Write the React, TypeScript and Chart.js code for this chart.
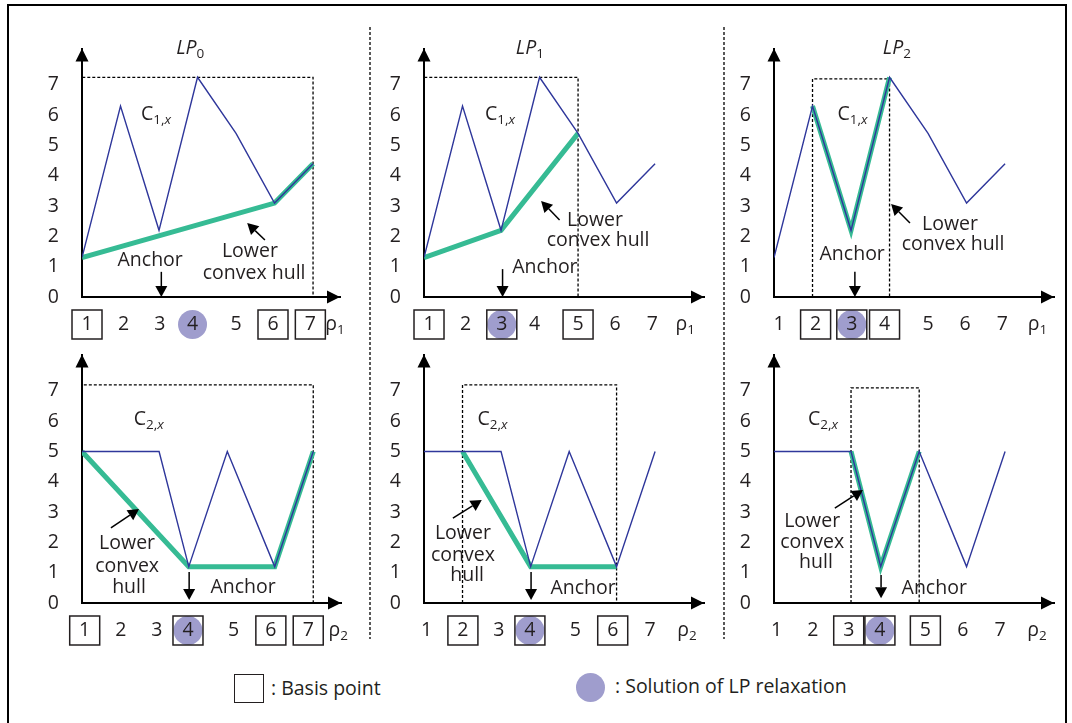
import React, { useEffect, useRef } from 'react';
import { Chart, registerables } from 'chart.js';

Chart.register(...registerables);

// ---------- data ----------
const X_VALUES = [1, 2, 3, 4, 5, 6, 7];
const C1_VALUES = [1.3, 6.3, 2.2, 7.25, 5.4, 3.1, 4.4];
const C2_X = [1, 2, 3, 3.77, 4.77, 6, 7];
const C2_VALUES = [5, 5, 5, 1.2, 5, 1.2, 5];

const Y_TICKS = [0, 1, 2, 3, 4, 5, 6, 7];
const TICK_LABELS = ['1', '2', '3', '4', '5', '6', '7'];
const TOP_TICK_POS = [1.13, 2.08, 3.02, 3.87, 5.0, 5.96, 6.93];
const BOTTOM_TICK_POS = [1.07, 2.01, 2.94, 3.75, 4.93, 5.9, 6.87];

const HULL_LP0_C1_X = [1, 6, 7];
const HULL_LP0_C1_Y = [1.3, 3.1, 4.4];
const HULL_LP1_C1_X = [1, 3, 5];
const HULL_LP1_C1_Y = [1.3, 2.2, 5.4];
const HULL_LP2_C1_X = [2, 3, 4];
const HULL_LP2_C1_Y = [6.3, 2.2, 7.25];
const HULL_LP0_C2_X = [1, 3.77, 6, 7];
const HULL_LP0_C2_Y = [5, 1.2, 1.2, 5];
const HULL_LP1_C2_X = [2, 3.77, 6];
const HULL_LP1_C2_Y = [5, 1.2, 1.2];
const HULL_LP2_C2_X = [3, 3.77, 4.77];
const HULL_LP2_C2_Y = [5, 1.2, 5];

// [low x, high x, top y] of the dashed bound boxes
const BOUNDS_LP0_C1 = [1, 7, 7.25];
const BOUNDS_LP1_C1 = [1, 5, 7.25];
const BOUNDS_LP2_C1 = [2, 4, 7.2];
const BOUNDS_LP0_C2 = [1, 7, 7.2];
const BOUNDS_LP1_C2 = [2, 6, 7.2];
const BOUNDS_LP2_C2 = [3, 4.77, 7.1];

const BASIS_LP0_C1 = [1, 6, 7];
const BASIS_LP1_C1 = [1, 3, 5];
const BASIS_LP2_C1 = [2, 3, 4];
const BASIS_LP0_C2 = [1, 4, 6, 7];
const BASIS_LP1_C2 = [2, 4, 6];
const BASIS_LP2_C2 = [3, 4, 5];
const SOLUTION_C1 = [4, 3, 3];
const SOLUTION_C2 = [4, 4, 4];

// ---------- styles ----------
const FONT = '"Open Sans"';
const FS = 19.5;
const SUB = 13.5;
const INK = '#231f20';
const BLUE = '#2f379b';
const GREEN = '#36bb94';
const PURPLE = '#9f9dcd';
const PX_PER_X = 38.5;
const Y_AXIS_W = 70;
const X_AXIS_H = 50;
const PAD_TOP = 51.5;
const PAD_RIGHT = 15;
const CANVAS_H = 350;

const pts = (xs: number[], ys: number[]) => xs.map((x, i) => ({ x, y: ys[i] }));
const boxPts = (b: number[]) => [
  { x: b[0], y: 0 },
  { x: b[0], y: b[2] },
  { x: b[1], y: b[2] },
  { x: b[1], y: 0 },
];

type Seg = { t: string; size: number; italic?: boolean; sub?: boolean };

function drawRich(ctx: CanvasRenderingContext2D, segs: Seg[], cx: number, cy: number) {
  let w = 0;
  const widths = segs.map((s) => {
    ctx.font = `${s.italic ? 'italic ' : ''}${s.size}px ${FONT}`;
    const m = ctx.measureText(s.t).width;
    w += m;
    return m;
  });
  let x = cx - w / 2;
  const base = cy + 0.36 * FS;
  ctx.textAlign = 'left';
  ctx.textBaseline = 'alphabetic';
  segs.forEach((s, i) => {
    ctx.font = `${s.italic ? 'italic ' : ''}${s.size}px ${FONT}`;
    ctx.fillText(s.t, x, base + (s.sub ? 4 : 0));
    x += widths[i];
  });
}

function drawArrow(ctx: CanvasRenderingContext2D, x0: number, y0: number, x1: number, y1: number, head = 10, half = 5) {
  const a = Math.atan2(y1 - y0, x1 - x0);
  const bx = x1 - head * Math.cos(a);
  const by = y1 - head * Math.sin(a);
  ctx.beginPath();
  ctx.moveTo(x0, y0);
  ctx.lineTo(bx, by);
  ctx.stroke();
  ctx.beginPath();
  ctx.moveTo(x1, y1);
  ctx.lineTo(bx + half * Math.sin(a), by - half * Math.cos(a));
  ctx.lineTo(bx - half * Math.sin(a), by + half * Math.cos(a));
  ctx.closePath();
  ctx.fill();
}

type PanelCfg = {
  left: number;
  top: number;
  xMax: number;
  curveX: number[];
  curveY: number[];
  hullX: number[];
  hullY: number[];
  bounds: number[];
  tickPos: number[];
  basis: number[];
  solution: number;
  title?: Seg[];
  titleAt?: number[];
  cLabel: Seg[];
  cAt: number[];
  rho: Seg[];
  rhoAt: number;
  anchor: number[]; // x, yFrom, yTo
  anchorText: number[];
  hullArrow: number[]; // x0,y0,x1,y1
  hullText: { t: string; x: number; y: number }[];
};

const lp = (n: string): Seg[] => [
  { t: 'LP', size: FS, italic: true },
  { t: n, size: SUB, sub: true },
];
const cl = (n: string): Seg[] => [
  { t: 'C', size: FS },
  { t: n + ',', size: SUB, sub: true },
  { t: 'x', size: SUB, italic: true, sub: true },
];
const rh = (n: string): Seg[] => [
  { t: 'ρ', size: FS },
  { t: n, size: SUB, sub: true },
];

const TOP_Y = -3;
const BOT_Y = 303;

const PANELS: PanelCfg[] = [
  {
    left: 12, top: TOP_Y, xMax: 7.7,
    curveX: X_VALUES, curveY: C1_VALUES, hullX: HULL_LP0_C1_X, hullY: HULL_LP0_C1_Y,
    bounds: BOUNDS_LP0_C1, tickPos: TOP_TICK_POS, basis: BASIS_LP0_C1, solution: SOLUTION_C1[0],
    title: lp('0'), titleAt: [3.81, 8.26], cLabel: cl('1'), cAt: [2.92, 6.07], rho: rh('1'), rhoAt: 7.57,
    anchor: [3.06, 0.83, 0], anchorText: [2.77, 1.22], hullArrow: [5.75, 1.88, 5.29, 2.44],
    hullText: [{ t: 'Lower', x: 5.36, y: 1.49 }, { t: 'convex hull', x: 5.47, y: 0.79 }],
  },
  {
    left: 354, top: TOP_Y, xMax: 8.27,
    curveX: X_VALUES, curveY: C1_VALUES, hullX: HULL_LP1_C1_X, hullY: HULL_LP1_C1_Y,
    bounds: BOUNDS_LP1_C1, tickPos: TOP_TICK_POS, basis: BASIS_LP1_C1, solution: SOLUTION_C1[1],
    title: lp('1'), titleAt: [3.75, 8.26], cLabel: cl('1'), cAt: [2.97, 6.07], rho: rh('1'), rhoAt: 7.78,
    anchor: [3.04, 0.92, 0], anchorText: [4.14, 0.96], hullArrow: [4.52, 2.54, 4.04, 3.17],
    hullText: [{ t: 'Lower', x: 5.44, y: 2.54 }, { t: 'convex hull', x: 5.52, y: 1.88 }],
  },
  {
    left: 704, top: TOP_Y, xMax: 8.27,
    curveX: X_VALUES, curveY: C1_VALUES, hullX: HULL_LP2_C1_X, hullY: HULL_LP2_C1_Y,
    bounds: BOUNDS_LP2_C1, tickPos: TOP_TICK_POS, basis: BASIS_LP2_C1, solution: SOLUTION_C1[2],
    title: lp('2'), titleAt: [4.19, 8.26], cLabel: cl('1'), cAt: [3.04, 6.07], rho: rh('1'), rhoAt: 7.84,
    anchor: [3.1, 0.83, 0], anchorText: [3.03, 1.39], hullArrow: [4.53, 2.44, 4.04, 3.07],
    hullText: [{ t: 'Lower', x: 5.57, y: 2.41 }, { t: 'convex hull', x: 5.65, y: 1.72 }],
  },
  {
    left: 12, top: BOT_Y, xMax: 7.72,
    curveX: C2_X, curveY: C2_VALUES, hullX: HULL_LP0_C2_X, hullY: HULL_LP0_C2_Y,
    bounds: BOUNDS_LP0_C2, tickPos: BOTTOM_TICK_POS, basis: BASIS_LP0_C2, solution: SOLUTION_C2[0],
    cLabel: cl('2'), cAt: [2.73, 6.1], rho: rh('2'), rhoAt: 7.65,
    anchor: [3.78, 1.02, 0.1], anchorText: [5.18, 0.53], hullArrow: [1.75, 2.48, 2.48, 3.1],
    hullText: [{ t: 'Lower', x: 2.17, y: 1.98 }, { t: 'convex', x: 2.17, y: 1.22 }, { t: 'hull', x: 2.22, y: 0.53 }],
  },
  {
    left: 354, top: BOT_Y, xMax: 8.27,
    curveX: C2_X, curveY: C2_VALUES, hullX: HULL_LP1_C2_X, hullY: HULL_LP1_C2_Y,
    bounds: BOUNDS_LP1_C2, tickPos: BOTTOM_TICK_POS, basis: BASIS_LP1_C2, solution: SOLUTION_C2[1],
    cLabel: cl('2'), cAt: [2.78, 6.1], rho: rh('2'), rhoAt: 7.83,
    anchor: [3.78, 1.02, 0.1], anchorText: [5.13, 0.49], hullArrow: [1.75, 2.8, 2.5, 3.4],
    hullText: [{ t: 'Lower', x: 2.01, y: 2.31 }, { t: 'convex', x: 2.01, y: 1.58 }, { t: 'hull', x: 2.12, y: 0.92 }],
  },
  {
    left: 704, top: BOT_Y, xMax: 8.27,
    curveX: C2_X, curveY: C2_VALUES, hullX: HULL_LP2_C2_X, hullY: HULL_LP2_C2_Y,
    bounds: BOUNDS_LP2_C2, tickPos: BOTTOM_TICK_POS, basis: BASIS_LP2_C2, solution: SOLUTION_C2[2],
    cLabel: cl('2'), cAt: [2.27, 6.1], rho: rh('2'), rhoAt: 7.83,
    anchor: [3.78, 0.92, 0.16], anchorText: [5.16, 0.49], hullArrow: [2.58, 3.13, 3.31, 3.73],
    hullText: [{ t: 'Lower', x: 1.99, y: 2.7 }, { t: 'convex', x: 1.99, y: 2.01 }, { t: 'hull', x: 2.09, y: 1.35 }],
  },
];

function makePlugin(cfg: PanelCfg) {
  return {
    id: 'panelDecor',
    beforeDraw(chart: any) {
      const { ctx, scales } = chart;
      const x = scales.x;
      const y = scales.y;
      const ly = y.getPixelForValue(0) + 27.5;
      ctx.save();
      const sx = x.getPixelForValue(cfg.tickPos[cfg.solution - 1]);
      ctx.fillStyle = PURPLE;
      ctx.beginPath();
      ctx.arc(sx, ly, 14.5, 0, Math.PI * 2);
      ctx.fill();
      ctx.strokeStyle = INK;
      ctx.lineWidth = 1.5;
      cfg.basis.forEach((v) => {
        const px = x.getPixelForValue(cfg.tickPos[v - 1]);
        ctx.strokeRect(px - 15, ly - 14.5, 30, 29);
      });
      ctx.restore();
    },
    afterDraw(chart: any) {
      const { ctx, chartArea, scales } = chart;
      const x = scales.x;
      const y = scales.y;
      const X = (v: number) => x.getPixelForValue(v);
      const Y = (v: number) => y.getPixelForValue(v);
      ctx.save();
      ctx.fillStyle = '#000';
      // axis arrowheads
      ctx.beginPath();
      ctx.moveTo(chartArea.right, chartArea.bottom);
      ctx.lineTo(chartArea.right - 13, chartArea.bottom - 6.5);
      ctx.lineTo(chartArea.right - 13, chartArea.bottom + 6.5);
      ctx.closePath();
      ctx.fill();
      ctx.beginPath();
      ctx.moveTo(chartArea.left, chartArea.top);
      ctx.lineTo(chartArea.left - 6.5, chartArea.top + 13);
      ctx.lineTo(chartArea.left + 6.5, chartArea.top + 13);
      ctx.closePath();
      ctx.fill();
      // annotation arrows
      ctx.strokeStyle = '#000';
      ctx.lineWidth = 1.5;
      drawArrow(ctx, X(cfg.anchor[0]), Y(cfg.anchor[1]), X(cfg.anchor[0]), Y(cfg.anchor[2]), 11, 6);
      drawArrow(ctx, X(cfg.hullArrow[0]), Y(cfg.hullArrow[1]), X(cfg.hullArrow[2]), Y(cfg.hullArrow[3]), 11, 6);
      // texts
      ctx.fillStyle = INK;
      ctx.textAlign = 'center';
      ctx.textBaseline = 'middle';
      ctx.font = `${FS}px ${FONT}`;
      ctx.fillText('Anchor', X(cfg.anchorText[0]), Y(cfg.anchorText[1]));
      cfg.hullText.forEach((h) => ctx.fillText(h.t, X(h.x), Y(h.y)));
      if (cfg.title && cfg.titleAt) drawRich(ctx, cfg.title, X(cfg.titleAt[0]), Y(cfg.titleAt[1]));
      drawRich(ctx, cfg.cLabel, X(cfg.cAt[0]), Y(cfg.cAt[1]));
      drawRich(ctx, cfg.rho, X(cfg.rhoAt), Y(0) + 26);
      ctx.restore();
    },
  };
}

function Panel({ cfg }: { cfg: PanelCfg }) {
  const ref = useRef<HTMLCanvasElement>(null);
  const width = Math.round(Y_AXIS_W + (cfg.xMax - 1) * PX_PER_X + PAD_RIGHT);
  useEffect(() => {
    if (!ref.current) return;
    const tickFont = { family: FONT, size: FS };
    const chart = new Chart(ref.current, {
      type: 'line',
      data: {
        datasets: [
          {
            data: pts(cfg.curveX, cfg.curveY),
            borderColor: BLUE,
            borderWidth: 1.4,
            pointRadius: 0,
            tension: 0,
            fill: false,
            order: 0,
          },
          {
            data: pts(cfg.hullX, cfg.hullY),
            borderColor: GREEN,
            borderWidth: 5,
            pointRadius: 0,
            tension: 0,
            fill: false,
            order: 1,
          },
          {
            data: boxPts(cfg.bounds),
            borderColor: '#000',
            borderWidth: 1.3,
            borderDash: [3, 2],
            pointRadius: 0,
            tension: 0,
            fill: false,
            order: 2,
          },
        ],
      },
      options: {
        responsive: false,
        maintainAspectRatio: false,
        animation: false,
        events: [],
        layout: { padding: { top: PAD_TOP, right: PAD_RIGHT, left: 0, bottom: 0 } },
        plugins: { legend: { display: false }, tooltip: { enabled: false } },
        scales: {
          x: {
            type: 'linear',
            min: 1,
            max: cfg.xMax,
            grid: { display: false, drawTicks: false },
            border: { display: true, color: '#000', width: 2 },
            afterBuildTicks: (s: any) => {
              s.ticks = cfg.tickPos.map((v) => ({ value: v }));
            },
            afterFit: (s: any) => {
              s.height = X_AXIS_H;
            },
            ticks: {
              autoSkip: false,
              maxRotation: 0,
              minRotation: 0,
              padding: 16,
              color: INK,
              font: tickFont,
              callback: (_v: any, i: number) => TICK_LABELS[i],
            },
          },
          y: {
            type: 'linear',
            min: 0,
            max: 8.2,
            grid: { display: false, drawTicks: false },
            border: { display: true, color: '#000', width: 2 },
            afterBuildTicks: (s: any) => {
              s.ticks = Y_TICKS.map((v) => ({ value: v }));
            },
            afterFit: (s: any) => {
              s.width = Y_AXIS_W;
            },
            ticks: {
              padding: 23,
              color: INK,
              font: tickFont,
              callback: (v: any) => String(v),
            },
          },
        },
      },
      plugins: [makePlugin(cfg)],
    } as any);
    return () => chart.destroy();
  }, []);
  return (
    <canvas
      ref={ref}
      width={width}
      height={CANVAS_H}
      style={{ position: 'absolute', left: cfg.left, top: cfg.top, width, height: CANVAS_H }}
    />
  );
}

export default function App() {
  const text: React.CSSProperties = {
    position: 'absolute',
    fontFamily: FONT,
    fontSize: FS,
    lineHeight: '24px',
    color: INK,
    whiteSpace: 'nowrap',
  };
  return (
    <div
      style={{
        position: 'absolute',
        left: 0,
        top: 0,
        width: 1072,
        height: 723,
        overflow: 'hidden',
        background: '#fff',
      }}
    >
      <div
        style={{
          position: 'absolute',
          left: 7,
          top: 4,
          width: 1060,
          height: 760,
          border: '2px solid #000',
          boxSizing: 'border-box',
        }}
      />
      <svg width={1072} height={723} style={{ position: 'absolute', left: 0, top: 0 }}>
        <line x1={370} y1={27} x2={370} y2={639} stroke="#000" strokeWidth={1.3} strokeDasharray="3 2" />
        <line x1={724} y1={27} x2={724} y2={639} stroke="#000" strokeWidth={1.3} strokeDasharray="3 2" />
      </svg>
      {PANELS.map((p, i) => (
        <Panel key={i} cfg={p} />
      ))}
      <div
        style={{
          position: 'absolute',
          left: 234,
          top: 674,
          width: 30,
          height: 29,
          border: `1.5px solid ${INK}`,
          boxSizing: 'border-box',
        }}
      />
      <div style={{ ...text, left: 271, top: 676 }}>: Basis point</div>
      <div
        style={{
          position: 'absolute',
          left: 576,
          top: 673,
          width: 29,
          height: 29,
          borderRadius: '50%',
          background: PURPLE,
        }}
      />
      <div style={{ ...text, left: 615, top: 674 }}>: Solution of LP relaxation</div>
    </div>
  );
}
